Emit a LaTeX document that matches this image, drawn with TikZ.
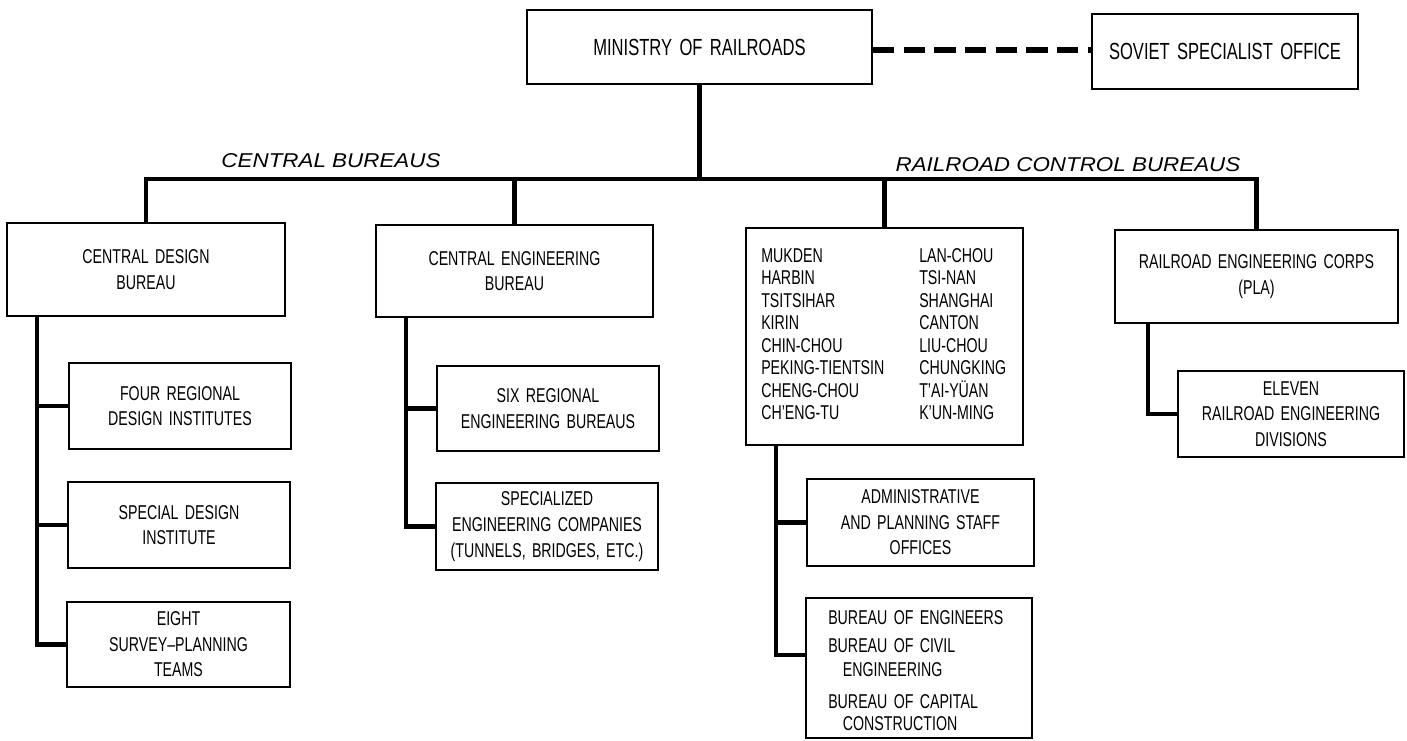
\documentclass[tikz,border=0pt]{standalone}
\usepackage{fontspec}
\setmainfont{Liberation Sans}[FakeStretch=0.71, WordSpace=1.6]
\newfontfamily\labfont{Liberation Sans}[FakeStretch=1.12]
\begin{document}
\begin{tikzpicture}[x=0.75pt,y=-0.75pt,
  box/.style={draw, line width=1.5pt, align=center, inner sep=0pt,
    font=\fontsize{15}{19.2}\selectfont},
  big/.style={font=\fontsize{17.5}{20}\selectfont},
  sz/.style n args={2}{minimum width=#1*0.75pt, minimum height=#2*0.75pt},
  conn/.style={line width=3.6pt, line join=miter},
  dashline/.style={line width=3.8pt, dash pattern=on 16pt off 7pt},
  lab/.style={inner sep=0pt, font=\labfont\itshape\fontsize{15}{18}\selectfont},
  listtxt/.style={inner sep=0pt, align=left, font=\fontsize{15}{16.9}\selectfont}]
\useasboundingbox (0,0) rectangle (1407,741);

% boxes
\node[box, big, sz={345}{74}] (min) at (699.5,47) {MINISTRY OF RAILROADS};
\node[box, big, sz={266}{75}] (sov) at (1225,51.5) {SOVIET SPECIALIST OFFICE};
\node[box, sz={278}{93}] (cdb) at (146,269.5) {CENTRAL DESIGN\\BUREAU};
\node[box, sz={277}{92}] (ceb) at (514.5,271) {CENTRAL ENGINEERING\\BUREAU};
\node[box, sz={277}{217}] (ctl) at (884.5,336.5) {};
\node[box, sz={283}{93}] (corps) at (1256.5,276.5) {RAILROAD ENGINEERING CORPS\\(PLA)};
\node[box, sz={222}{86}] (four) at (180,406) {FOUR REGIONAL\\DESIGN INSTITUTES};
\node[box, sz={222}{86}] (spec) at (179,525) {SPECIAL DESIGN\\INSTITUTE};
\node[box, sz={223}{85}] (eight) at (178.5,644.5) {EIGHT\\SURVEY–PLANNING\\TEAMS};
\node[box, sz={222}{85}] (six) at (548,408.5) {SIX REGIONAL\\ENGINEERING BUREAUS};
\node[box, sz={222}{87}] (spz) at (547,526.5) {SPECIALIZED\\ENGINEERING COMPANIES\\(TUNNELS, BRIDGES, ETC.)};
\node[box, sz={227}{87}] (adm) at (920.5,522.5) {ADMINISTRATIVE\\AND PLANNING STAFF\\OFFICES};
\node[box, sz={226}{140}] (bur) at (919,668) {};
\node[box, sz={226}{86}] (elev) at (1291,414) {ELEVEN\\RAILROAD ENGINEERING\\DIVISIONS};

% texts inside the control box and the bureau box
\node[listtxt, anchor=north west] (cola) at (761,248)
  {MUKDEN\\HARBIN\\TSITSIHAR\\KIRIN\\CHIN-CHOU\\PEKING-TIENTSIN\\CHENG-CHOU\\CH’ENG-TU};
\node[listtxt, anchor=north west] (colb) at (919,248)
  {LAN-CHOU\\TSI-NAN\\SHANGHAI\\CANTON\\LIU-CHOU\\CHUNGKING\\T’AI-YÜAN\\K’UN-MING};
\node[listtxt, anchor=north west, font=\fontsize{15}{16.5}\selectfont] (burtxt) at (828,610)
  {BUREAU OF ENGINEERS\\[4.5pt]BUREAU OF CIVIL\\[1.5pt]\hspace*{11pt}ENGINEERING\\[8pt]BUREAU OF CAPITAL\\\hspace*{11pt}CONSTRUCTION};

% labels
\node[lab] (lcb) at (331,161) {CENTRAL BUREAUS};
\node[lab] (lrcb) at (1068,165) {RAILROAD CONTROL BUREAUS};

% connectors
\coordinate (bus) at (702,179);
\draw[conn] (cdb.north) -- (cdb.north |- bus) -- (corps.north |- bus) -- (corps.north);
\draw[conn] (min.south) -- (min.south |- bus);
\draw[conn] (ceb.north) -- (ceb.north |- bus);
\draw[conn] (ctl.north) -- (ctl.north |- bus);

\coordinate (lx) at (37,0);
\draw[conn] (lx |- cdb.south) -- (lx |- eight.west) -- (eight.west);
\draw[conn] (lx |- four.west) -- (four.west);
\draw[conn] (lx |- spec.west) -- (spec.west);

\coordinate (mx) at (406,0);
\draw[conn] (mx |- ceb.south) -- (mx |- spz.west) -- (spz.west);
\draw[conn] (mx |- six.west) -- (six.west);

\coordinate (rx) at (776,0);
\coordinate (bb) at (806,655);
\draw[conn] (rx |- ctl.south) -- (rx |- bb) -- (bb);
\draw[conn] (rx |- adm.west) -- (adm.west);

\coordinate (cx) at (1148,0);
\draw[conn] (cx |- corps.south) -- (cx |- elev.west) -- (elev.west);

\coordinate (dy) at (0,50);
\draw[dashline] (min.east |- dy) -- (sov.west |- dy);
\end{tikzpicture}
\end{document}
